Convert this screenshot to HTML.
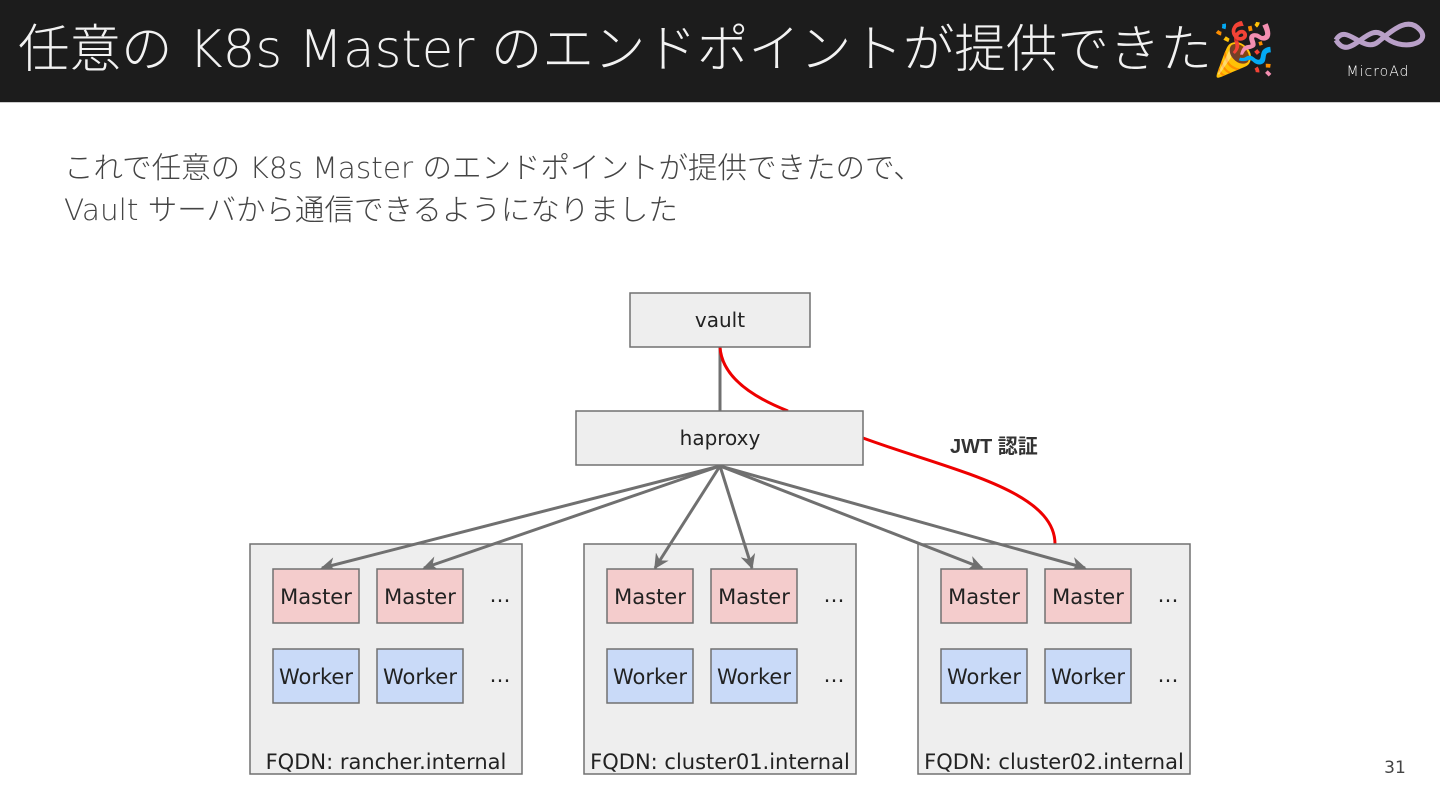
<!DOCTYPE html>
<html><head><meta charset="utf-8"><style>
html,body{margin:0;padding:0;width:1440px;height:810px;overflow:hidden;background:#fff;font-family:"DejaVu Sans","Noto Sans CJK JP",sans-serif}
.bar{position:absolute;left:0;top:0;width:1440px;height:102px;background:#1c1c1c;border-bottom:1px solid #ccc}
.title{position:absolute;left:18px;top:15px;color:#f2f2f2;font-size:51.5px;font-family:"DejaVu Sans","Noto Sans CJK JP",sans-serif;font-weight:200;white-space:nowrap;line-height:70px}
.sub{position:absolute;left:64px;top:147px;color:#444;font-size:29.5px;line-height:42px;font-family:"DejaVu Sans","Noto Sans CJK JP",sans-serif;font-weight:200;white-space:nowrap}
</style></head><body>
<div class="bar"></div>
<div class="title">任意の K8s Master のエンドポイントが提供できた🎉</div>
<svg style="position:absolute;left:1328px;top:14px" width="100" height="75">
<path d="M8 26 C 18 8, 35 40, 50 28 S 80 2, 92 16 S 72 38, 56 22 S 22 50, 8 26" fill="none" stroke="#b9a0c8" stroke-width="5"/>
<text x="50" y="62" fill="#fff" font-size="14" text-anchor="middle" font-family="DejaVu Sans,sans-serif" font-weight="200" letter-spacing="1">MicroAd</text>
</svg>
<div class="sub">これで任意の K8s Master のエンドポイントが提供できたので、<br>Vault サーバから通信できるようになりました</div>
<svg style="position:absolute;left:0;top:0" width="1440" height="810" font-family="DejaVu Sans,'Noto Sans CJK JP',sans-serif">
<defs><marker id="a" viewBox="0 0 10 10" refX="9" refY="5" markerWidth="5" markerHeight="5" orient="auto"><path d="M0 0L10 5L0 10L3 5z" fill="#707070"/></marker></defs>
<line x1="720" y1="347" x2="720" y2="411" stroke="#707070" stroke-width="3"/>
<path d="M720 347 C 722 380, 760 400, 788 411" fill="none" stroke="#e00" stroke-width="3"/>
<path d="M863 438 C 950 470, 1055 490, 1055 544" fill="none" stroke="#e00" stroke-width="3"/>
<rect x="630" y="293" width="180" height="54" fill="#eee" stroke="#707070" stroke-width="1.5"/>
<text x="720" y="327" font-size="20" text-anchor="middle" fill="#222">vault</text>
<rect x="576" y="411" width="287" height="54" fill="#eee" stroke="#707070" stroke-width="1.5"/>
<text x="720" y="445" font-size="20" text-anchor="middle" fill="#222">haproxy</text>
<text x="950" y="453" font-size="20" font-weight="bold" fill="#333" font-family="Liberation Sans,'Noto Sans CJK JP',sans-serif">JWT 認証</text>
<g fill="#eee" stroke="#707070" stroke-width="1.5">
<rect x="250" y="544" width="272" height="230"/><rect x="584" y="544" width="272" height="230"/><rect x="918" y="544" width="272" height="230"/>
</g>
<g stroke="#707070" stroke-width="3" marker-end="url(#a)">
<line x1="720" y1="466" x2="322" y2="568"/><line x1="720" y1="466" x2="424" y2="568"/>
<line x1="720" y1="466" x2="655" y2="568"/><line x1="720" y1="466" x2="752" y2="568"/>
<line x1="720" y1="466" x2="982" y2="568"/><line x1="720" y1="466" x2="1085" y2="568"/>
</g>
<g font-size="21" text-anchor="middle" fill="#222">
<g transform="translate(0,0)">
<rect x="273" y="569" width="86" height="54" fill="#f4cccc" stroke="#707070" stroke-width="1.5"/><text x="316" y="604">Master</text>
<rect x="377" y="569" width="86" height="54" fill="#f4cccc" stroke="#707070" stroke-width="1.5"/><text x="420" y="604">Master</text>
<rect x="273" y="649" width="86" height="54" fill="#c9daf8" stroke="#707070" stroke-width="1.5"/><text x="316" y="684">Worker</text>
<rect x="377" y="649" width="86" height="54" fill="#c9daf8" stroke="#707070" stroke-width="1.5"/><text x="420" y="684">Worker</text>
<text x="500" y="602">…</text><text x="500" y="682">…</text>
<text x="386" y="769">FQDN: rancher.internal</text>
</g>
<g transform="translate(334,0)">
<rect x="273" y="569" width="86" height="54" fill="#f4cccc" stroke="#707070" stroke-width="1.5"/><text x="316" y="604">Master</text>
<rect x="377" y="569" width="86" height="54" fill="#f4cccc" stroke="#707070" stroke-width="1.5"/><text x="420" y="604">Master</text>
<rect x="273" y="649" width="86" height="54" fill="#c9daf8" stroke="#707070" stroke-width="1.5"/><text x="316" y="684">Worker</text>
<rect x="377" y="649" width="86" height="54" fill="#c9daf8" stroke="#707070" stroke-width="1.5"/><text x="420" y="684">Worker</text>
<text x="500" y="602">…</text><text x="500" y="682">…</text>
<text x="386" y="769">FQDN: cluster01.internal</text>
</g>
<g transform="translate(668,0)">
<rect x="273" y="569" width="86" height="54" fill="#f4cccc" stroke="#707070" stroke-width="1.5"/><text x="316" y="604">Master</text>
<rect x="377" y="569" width="86" height="54" fill="#f4cccc" stroke="#707070" stroke-width="1.5"/><text x="420" y="604">Master</text>
<rect x="273" y="649" width="86" height="54" fill="#c9daf8" stroke="#707070" stroke-width="1.5"/><text x="316" y="684">Worker</text>
<rect x="377" y="649" width="86" height="54" fill="#c9daf8" stroke="#707070" stroke-width="1.5"/><text x="420" y="684">Worker</text>
<text x="500" y="602">…</text><text x="500" y="682">…</text>
<text x="386" y="769">FQDN: cluster02.internal</text>
</g>
</g>
<text x="1395" y="773" font-size="17" text-anchor="middle" fill="#444">31</text>
</svg>
</body></html>
